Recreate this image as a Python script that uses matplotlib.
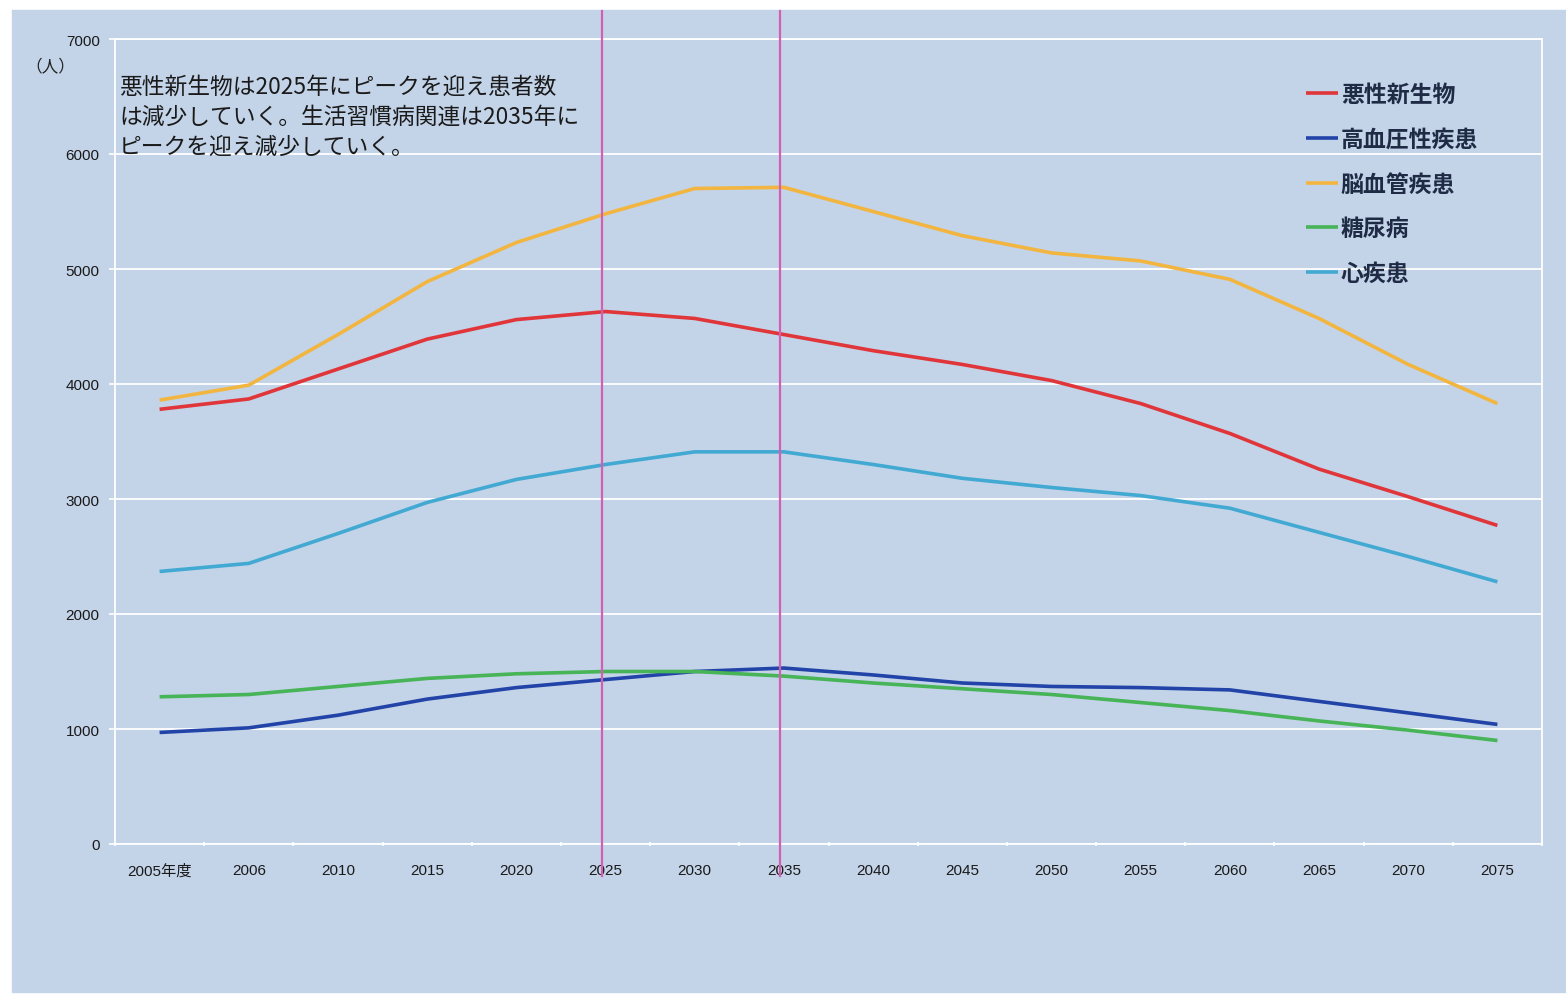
import numpy as np
import matplotlib
matplotlib.use("Agg")
import matplotlib.pyplot as plt
import matplotlib.transforms as mtransforms
from matplotlib.patches import Rectangle

plt.rcParams["font.family"] = ["Liberation Sans", "Noto Sans CJK JP"]

# 年度別の推計患者数（人）
years = ["2005年度", "2006", "2010", "2015", "2020", "2025", "2030", "2035",
         "2040", "2045", "2050", "2055", "2060", "2065", "2070", "2075"]
akusei   = [3780, 3870, 4130, 4390, 4560, 4630, 4570, 4430,
            4290, 4170, 4030, 3830, 3570, 3260, 3020, 2770]
kouketsu = [970, 1010, 1120, 1260, 1360, 1430, 1500, 1530,
            1470, 1400, 1370, 1360, 1340, 1240, 1140, 1040]
noukekkan = [3860, 3990, 4430, 4890, 5230, 5480, 5700, 5710,
             5500, 5290, 5140, 5070, 4910, 4570, 4170, 3830]
tounyou  = [1280, 1300, 1370, 1440, 1480, 1500, 1500, 1460,
            1400, 1350, 1300, 1230, 1160, 1070, 990, 900]
shin     = [2370, 2440, 2700, 2970, 3170, 3300, 3410, 3410,
            3300, 3180, 3100, 3030, 2920, 2710, 2500, 2280]
series_names = ["悪性新生物", "高血圧性疾患", "脳血管疾患", "糖尿病", "心疾患"]
peak_years = ["2025", "2035"]
note = ("悪性新生物は2025年にピークを迎え患者数\n"
        "は減少していく。生活習慣病関連は2035年に\n"
        "ピークを迎え減少していく。")

colors = ["#e0363a", "#2244a8", "#f2b640", "#46b457", "#42a9d2"]
BG = "#c3d3e8"

W, H = 1566, 995
fig = plt.figure(figsize=(W / 100, H / 100), dpi=100, facecolor="white")
fig.patches.append(Rectangle((12 / W, 1 - 993 / H), 1, (993 - 11) / H,
                             transform=fig.transFigure, color=BG, zorder=-10))

ax = fig.add_axes([115 / W, 1 - 845 / H, (1542 - 115) / W, (845 - 40) / H])
ax.set_facecolor("none")
x = np.arange(len(years))
for vals, name, c in zip([akusei, kouketsu, noukekkan, tounyou, shin], series_names, colors):
    ax.plot(x, vals, color=c, lw=2.6, label=name, zorder=3, solid_capstyle="butt")

ax.set_xlim(-0.5, len(years) - 0.5)
ax.set_ylim(0, 7000)
ax.set_yticks(range(0, 7001, 1000))
ax.set_xticks(x)
ax.set_xticklabels(years)
ax.set_xticks(np.arange(-0.5, len(years), 1), minor=True)
ax.grid(axis="y", color="white", lw=1.3)
ax.set_axisbelow(True)
for s in ax.spines.values():
    s.set_color("white")
    s.set_linewidth(1.3)
ax.tick_params(axis="y", colors="white", length=4, width=1.2, labelcolor="#1a1a1a",
               labelsize=11, pad=7)
ax.tick_params(axis="x", which="major", length=0, labelcolor="#1a1a1a", labelsize=11, pad=14)
ax.tick_params(axis="x", which="minor", colors="white", length=3, direction="inout", width=1.2)

# 2025年・2035年のピーク位置
tr = mtransforms.blended_transform_factory(ax.transData, ax.transAxes)
for yr in peak_years:
    xi = years.index(yr)
    ax.plot([xi - 0.045, xi - 0.045], [1.035, -0.04], transform=tr, color="#d45fb2",
            lw=1.6, clip_on=False, zorder=5)

fig.text(25 / W, 1 - 67 / H, "（人）", fontsize=12, color="#222222",
         family=["Noto Sans CJK JP"], va="center")
fig.text(119 / W, 1 - 76 / H, note, fontsize=16.4, color="#1a1a1a",
         family=["Noto Sans CJK JP"], va="top", linespacing=1.38)

ax.legend(loc="upper left", bbox_to_anchor=(1306 / W, 1 - 84 / H),
          bbox_transform=fig.transFigure, frameon=False,
          prop={"family": "Noto Sans CJK JP", "size": 16.5, "weight": "bold"},
          labelcolor="#1f2b45", handlelength=1.4, handletextpad=0.12,
          labelspacing=0.95, borderpad=0, borderaxespad=0)

fig.savefig("out.png", dpi=100, facecolor="white")
